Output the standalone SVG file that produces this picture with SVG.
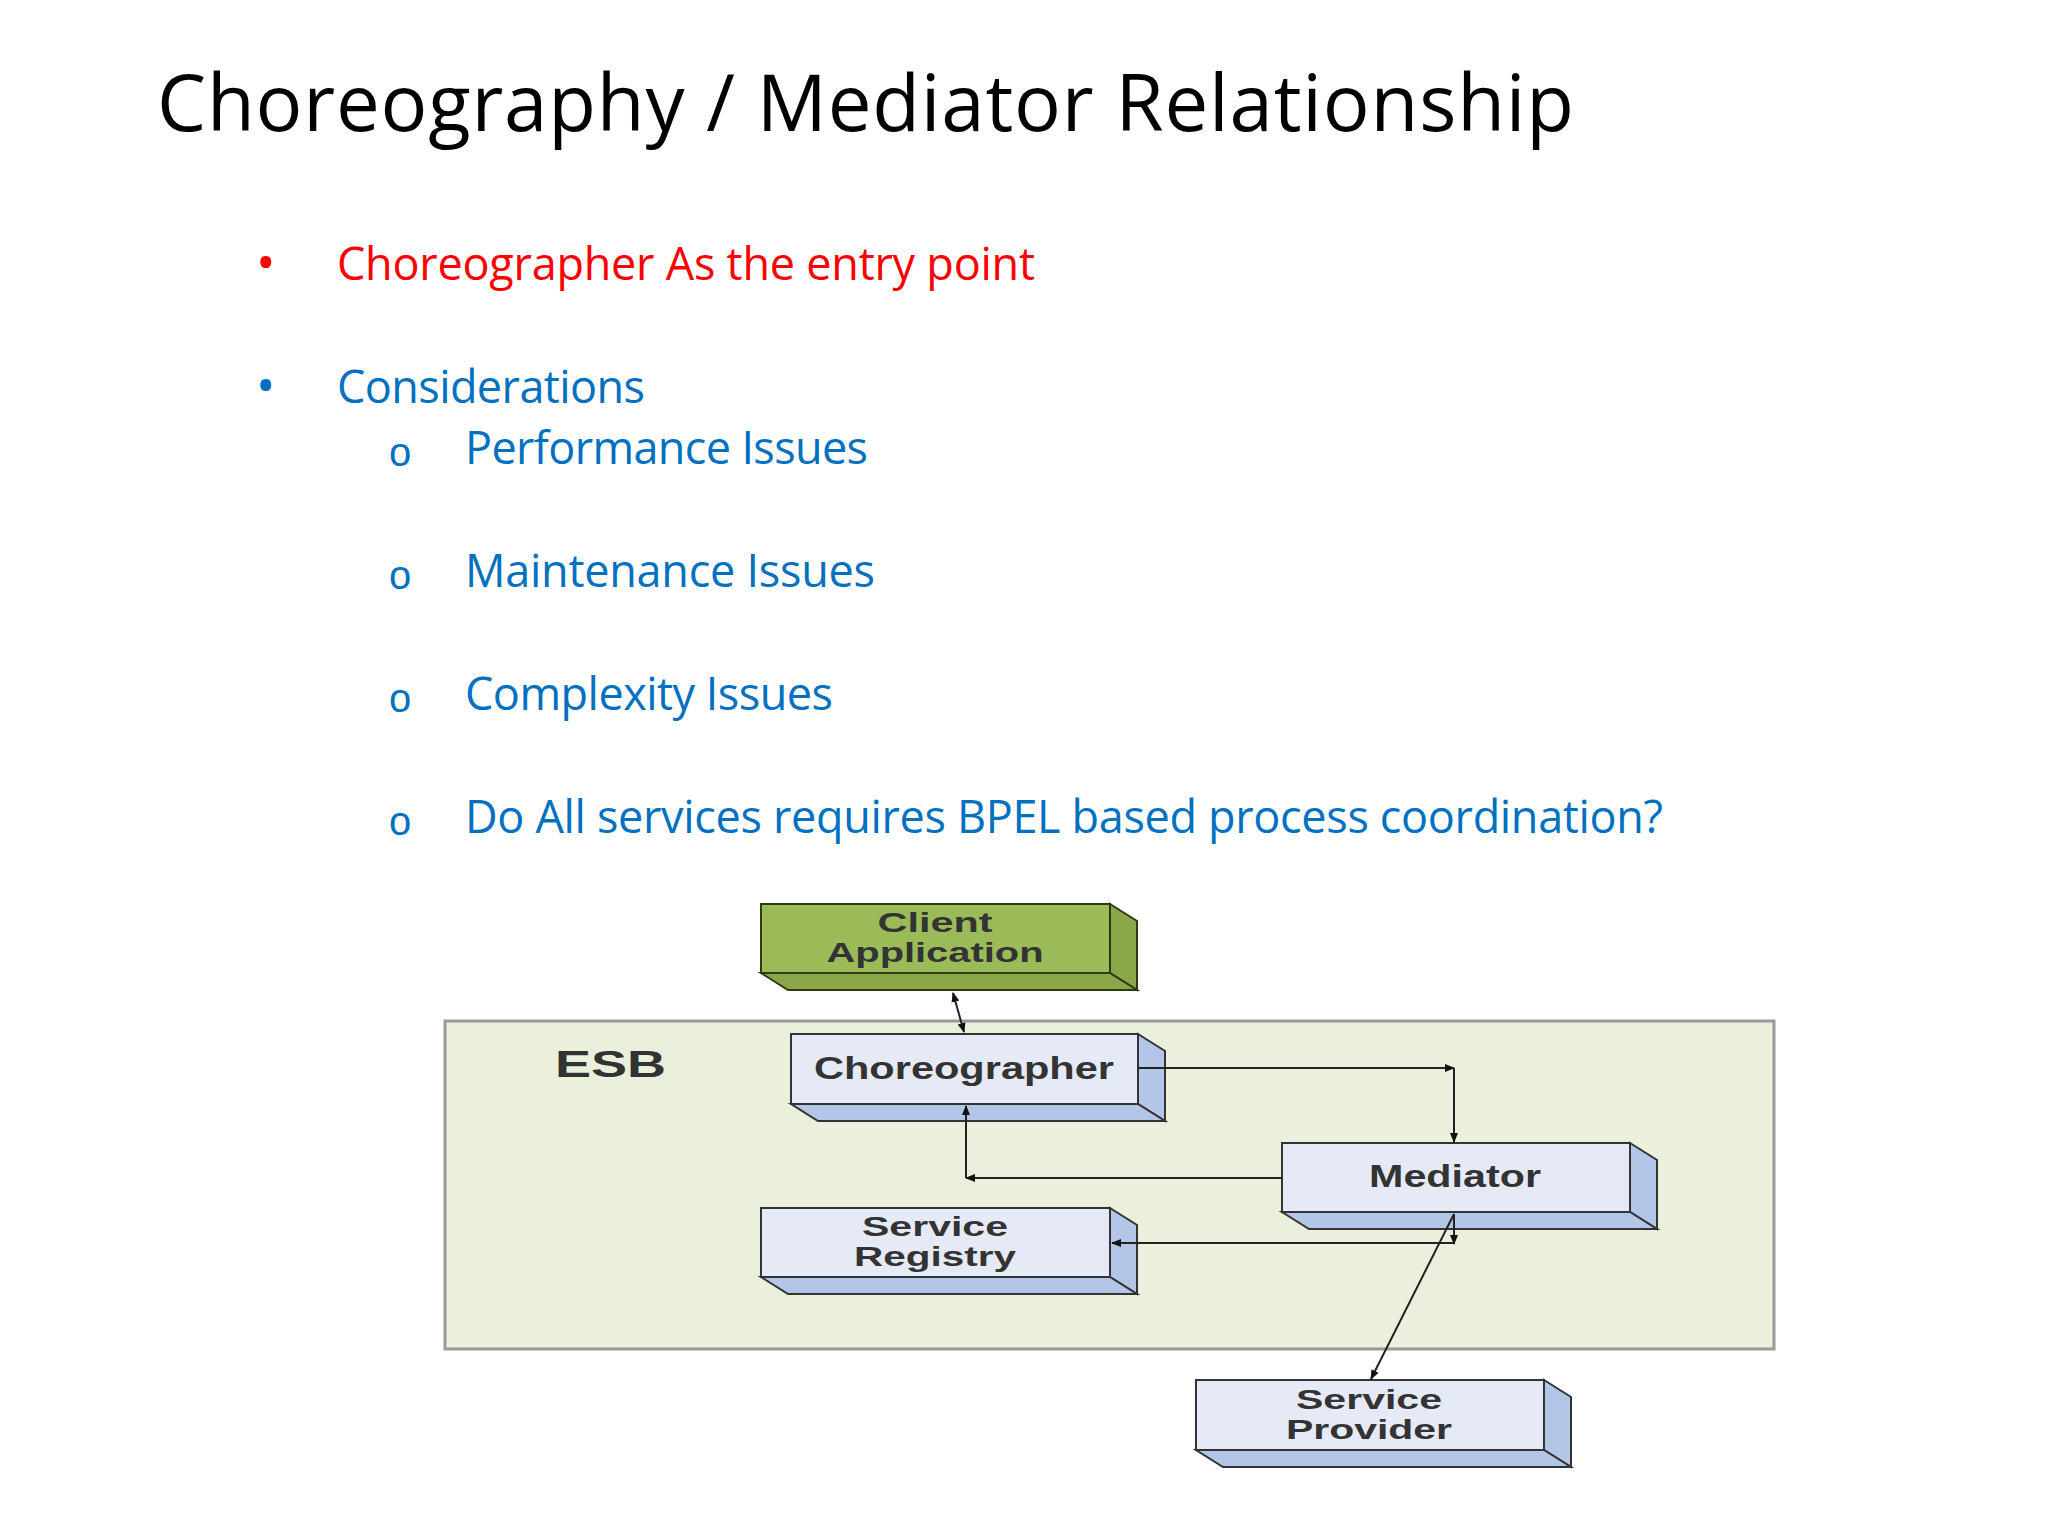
<svg xmlns="http://www.w3.org/2000/svg" width="2048" height="1536" viewBox="0 0 2048 1536">
<style>
.t{font-family:"Open Sans","Noto Sans",sans-serif}
.b{font-size:45px;fill:#0070c0}
.n{font-family:"Liberation Sans",Arial,sans-serif;font-size:31px;font-weight:bold;fill:#333;text-anchor:middle}
.m{font-size:27px}
.f{fill:#e6eaf7;stroke:#333;stroke-width:2}
.s{fill:#b4c6e7;stroke:#333;stroke-width:2}
.c{stroke:#222;stroke-width:2;fill:none}
</style>
<defs>
<marker id="a" markerWidth="10" markerHeight="10" refX="9" refY="5" orient="auto-start-reverse" markerUnits="userSpaceOnUse"><path d="M0,1 L10,5 L0,9 Z" fill="#111"/></marker>
</defs>
<rect width="2048" height="1536" fill="#fff"/>
<text class="t" x="157" y="131" font-size="78" fill="#000" textLength="1417">Choreography / Mediator Relationship</text>
<text class="t" x="256" y="281" font-size="52" fill="#ff0000">•</text>
<text class="t" x="337" y="280" font-size="45" fill="#ff0000" textLength="698">Choreographer As the entry point</text>
<text class="t" x="256" y="404" font-size="52" fill="#0070c0">•</text>
<text class="t b" x="337" y="403" textLength="308">Considerations</text>
<g fill="#0070c0" font-size="40" font-family="Liberation Sans,Arial,sans-serif">
<text x="389" y="466">o</text>
<text x="389" y="589">o</text>
<text x="389" y="712">o</text>
<text x="389" y="835">o</text>
</g>
<g class="t b">
<text x="465" y="464" textLength="403">Performance Issues</text>
<text x="465" y="587" textLength="410">Maintenance Issues</text>
<text x="465" y="710" textLength="368">Complexity Issues</text>
<text x="465" y="833" textLength="1198">Do All services requires BPEL based process coordination?</text>
</g>
<g id="esb">
<rect x="445" y="1021" width="1329" height="328" fill="#ebf0dd" stroke="#999" stroke-width="3"/>
<text x="555" y="1077" font-family="Liberation Sans,Arial,sans-serif" font-size="36" font-weight="bold" fill="#333" textLength="111" lengthAdjust="spacingAndGlyphs">ESB</text>
</g>
<g id="client">
<polygon points="1110,904 1137,921 1137,990 1110,973" fill="#8aa84a" stroke="#2d3b12" stroke-width="2"/>
<polygon points="761,973 1110,973 1137,990 788,990" fill="#8aa84a" stroke="#2d3b12" stroke-width="2"/>
<rect x="761" y="904" width="349" height="69" fill="#9bbb59" stroke="#2d3b12" stroke-width="2"/>
<text class="n m" x="935" y="932" textLength="115" lengthAdjust="spacingAndGlyphs">Client</text><text class="n m" x="935" y="962" textLength="217" lengthAdjust="spacingAndGlyphs">Application</text>
</g>
<g id="choreographer">
<polygon class="s" points="1138,1034 1165,1051 1165,1121 1138,1104"/>
<polygon class="s" points="791,1104 1138,1104 1165,1121 818,1121"/>
<rect class="f" x="791" y="1034" width="347" height="70"/>
<text class="n" x="964" y="1079" textLength="300" lengthAdjust="spacingAndGlyphs">Choreographer</text>
</g>
<g id="mediator">
<polygon class="s" points="1630,1143 1657,1160 1657,1229 1630,1212"/>
<polygon class="s" points="1282,1212 1630,1212 1657,1229 1309,1229"/>
<rect class="f" x="1282" y="1143" width="348" height="69"/>
<text class="n" x="1455" y="1187" textLength="172" lengthAdjust="spacingAndGlyphs">Mediator</text>
</g>
<g id="registry">
<polygon class="s" points="1110,1208 1137,1225 1137,1294 1110,1277"/>
<polygon class="s" points="761,1277 1110,1277 1137,1294 788,1294"/>
<rect class="f" x="761" y="1208" width="349" height="69"/>
<text class="n m" x="935" y="1236" textLength="146" lengthAdjust="spacingAndGlyphs">Service</text><text class="n m" x="935" y="1266" textLength="162" lengthAdjust="spacingAndGlyphs">Registry</text>
</g>
<g id="provider">
<polygon class="s" points="1544,1380 1571,1397 1571,1467 1544,1450"/>
<polygon class="s" points="1196,1450 1544,1450 1571,1467 1223,1467"/>
<rect class="f" x="1196" y="1380" width="348" height="70"/>
<text class="n m" x="1369" y="1409" textLength="146" lengthAdjust="spacingAndGlyphs">Service</text><text class="n m" x="1369" y="1439" textLength="166" lengthAdjust="spacingAndGlyphs">Provider</text>
</g>
<g id="connectors" class="c">
<line x1="953" y1="993" x2="964" y2="1032" marker-start="url(#a)" marker-end="url(#a)"/>
<line x1="1138" y1="1068" x2="1454" y2="1068" marker-end="url(#a)"/>
<line x1="1454" y1="1068" x2="1454" y2="1142" marker-end="url(#a)"/>
<line x1="1282" y1="1178" x2="966" y2="1178" marker-end="url(#a)"/>
<line x1="966" y1="1178" x2="966" y2="1106" marker-end="url(#a)"/>
<line x1="1454" y1="1214" x2="1454" y2="1244" marker-end="url(#a)"/>
<line x1="1454" y1="1243" x2="1112" y2="1243" marker-end="url(#a)"/>
<line x1="1454" y1="1214" x2="1371" y2="1379" marker-end="url(#a)"/>
</g>
</svg>
